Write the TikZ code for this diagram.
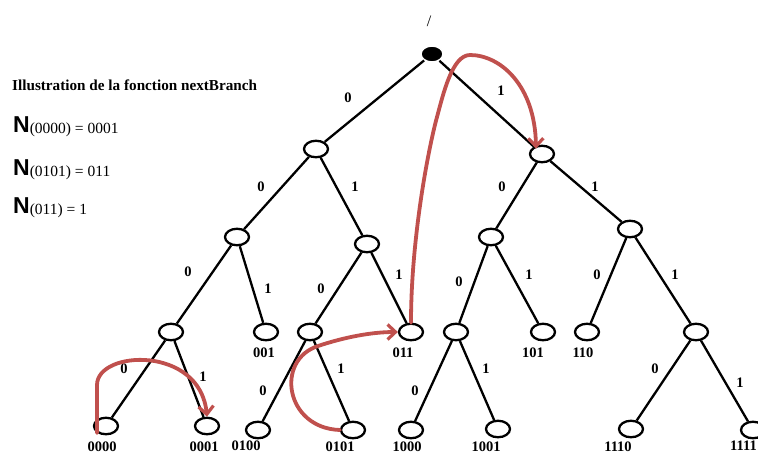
\documentclass[tikz,border=0pt]{standalone}
\usepackage{fontspec}
\setmainfont{Liberation Serif}
\newfontfamily\hsans{Liberation Sans}
\usetikzlibrary{shapes.geometric,arrows.meta}
\definecolor{arrred}{RGB}{192,80,77}
\begin{document}
\begin{tikzpicture}[x=1pt,y=-1pt,
  tn/.style={ellipse,draw,line width=2.3pt,minimum width=24pt,minimum height=16.5pt,inner sep=0pt,fill=white},
  rootn/.style={ellipse,draw=white,fill=black,line width=1.5pt,minimum width=22pt,minimum height=16pt,inner sep=0pt},
  tedge/.style={line width=2.3pt},
  lbl/.style={font=\bfseries\fontsize{14.5}{14.5}\selectfont,inner sep=0pt},
  eqn/.style={anchor=base west,inner sep=0pt},
  redarr/.style={draw=arrred,line width=3.8pt,line cap=round,-{Straight Barb[length=8pt,width=15pt,line width=3.2pt]}}]
\useasboundingbox (0,0) rectangle (758,455);
% title texts
\node[anchor=base west,inner sep=0pt,font=\bfseries\fontsize{15.2}{16}\selectfont] (title) at (12,90) {Illustration de la fonction nextBranch};
\node[eqn] (eq1) at (13,132) {{\hsans\bfseries\fontsize{23}{23}\selectfont N}{\fontsize{15.5}{15.5}\selectfont\raisebox{-1.5pt}{(0000) = 0001}}};
\node[eqn] (eq2) at (13,175) {{\hsans\bfseries\fontsize{23}{23}\selectfont N}{\fontsize{15.5}{15.5}\selectfont\raisebox{-1.5pt}{(0101) = 011}}};
\node[eqn] (eq3) at (13,213) {{\hsans\bfseries\fontsize{23}{23}\selectfont N}{\fontsize{15.5}{15.5}\selectfont\raisebox{-1.5pt}{(011) = 1}}};
\node[inner sep=0pt,font=\fontsize{16}{16}\selectfont] (slash) at (429,21) {/};
% tree nodes
\node[rootn] (r) at (432,54) {};
\node[tn] (n0) at (316,149) {};
\node[tn] (n1) at (542,154) {};
\node[tn] (n00) at (237,237) {};
\node[tn] (n01) at (367,244) {};
\node[tn] (n10) at (491,237) {};
\node[tn] (n11) at (630,229) {};
\node[tn] (n000) at (171,332) {};
\node[tn] (n001) at (266,332) {};
\node[tn] (n010) at (310,332) {};
\node[tn] (n011) at (411,332) {};
\node[tn] (n100) at (456,332) {};
\node[tn] (n101) at (543,332) {};
\node[tn] (n110) at (587,332) {};
\node[tn] (n111) at (696,332) {};
\node[tn] (n0000) at (106,426) {};
\node[tn] (n0001) at (207,426) {};
\node[tn] (n0100) at (258,430) {};
\node[tn] (n0101) at (353,430) {};
\node[tn] (n1000) at (411,430) {};
\node[tn] (n1001) at (498,429) {};
\node[tn] (n1110) at (631,429) {};
\node[tn] (n1111) at (753,430) {};
% edges
\draw[tedge] (r) -- (n0);
\draw[tedge] (r) -- (n1);
\draw[tedge] (n0) -- (n00);
\draw[tedge] (n0) -- (n01);
\draw[tedge] (n1) -- (n10);
\draw[tedge] (n1) -- (n11);
\draw[tedge] (n00) -- (n000);
\draw[tedge] (n00) -- (n001);
\draw[tedge] (n01) -- (n010);
\draw[tedge] (n01) -- (n011);
\draw[tedge] (n10) -- (n100);
\draw[tedge] (n10) -- (n101);
\draw[tedge] (n11) -- (n110);
\draw[tedge] (n11) -- (n111);
\draw[tedge] (n000) -- (n0000);
\draw[tedge] (n000) -- (n0001);
\draw[tedge] (n010) -- (n0100);
\draw[tedge] (n010) -- (n0101);
\draw[tedge] (n100) -- (n1000);
\draw[tedge] (n100) -- (n1001);
\draw[tedge] (n111) -- (n1110);
\draw[tedge] (n111) -- (n1111);
% edge labels
\node[lbl] (e0) at (348,98) {0};
\node[lbl] (e1) at (501,91) {1};
\node[lbl] (e00) at (261,187) {0};
\node[lbl] (e01) at (355,187) {1};
\node[lbl] (e10) at (502,187) {0};
\node[lbl] (e11) at (595,187) {1};
\node[lbl] (e000) at (188,272) {0};
\node[lbl] (e001) at (268,289) {1};
\node[lbl] (e010) at (321,289) {0};
\node[lbl] (e011) at (399,275) {1};
\node[lbl] (e100) at (459,282) {0};
\node[lbl] (e101) at (529,275) {1};
\node[lbl] (e110) at (597,275) {0};
\node[lbl] (e111) at (675,275) {1};
\node[lbl] (e0000) at (124,369) {0};
\node[lbl] (e0001) at (203,377) {1};
\node[lbl] (e0100) at (263,391) {0};
\node[lbl] (e0101) at (341,369) {1};
\node[lbl] (e1000) at (415,391) {0};
\node[lbl] (e1001) at (486,369) {1};
\node[lbl] (e1110) at (655,369) {0};
\node[lbl] (e1111) at (740,383) {1};
% leaf labels
\node[lbl] (t001) at (264,353) {001};
\node[lbl] (t011) at (403,353) {011};
\node[lbl] (t101) at (533,353) {101};
\node[lbl] (t110) at (583,353) {110};
\node[lbl] (t0000) at (102,447) {0000};
\node[lbl] (t0001) at (204,447) {0001};
\node[lbl] (t0100) at (246,446) {0100};
\node[lbl] (t0101) at (340,447) {0101};
\node[lbl] (t1000) at (407,447) {1000};
\node[lbl] (t1001) at (486,447) {1001};
\node[lbl] (t1110) at (618,447) {1110};
\node[lbl,anchor=east] (t1111) at (757,446) {1111};
% red arrows
\coordinate (a1) at (97,433);
\draw[redarr] (a1) -- (97,385) .. controls (97,350) and (200,345) .. (n0001.north);
\draw[redarr] (n0101.west) .. controls (285,428) and (275,360) .. (318,346) .. controls (345,337) and (372,332) .. (n011.west);
\draw[redarr] (n011.north) .. controls (411,240) and (428,150) .. (437,117) .. controls (443,95) and (452,55) .. (470,55) .. controls (500,55) and (535,85) .. ([xshift=-6pt,yshift=-4pt]n1.north);
\end{tikzpicture}
\end{document}
